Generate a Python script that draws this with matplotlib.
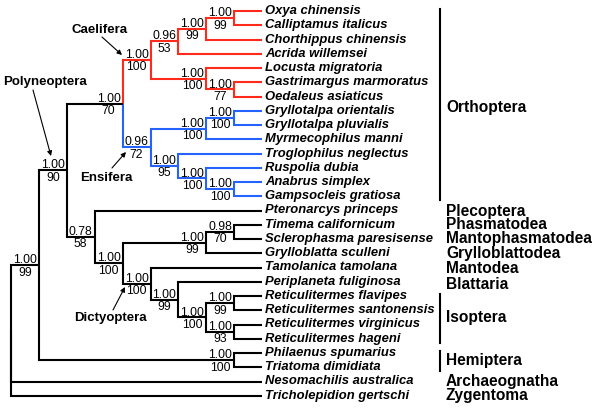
import matplotlib.pyplot as plt

RED = '#ff2a1a'
BLUE = '#2563ff'

# tree nodes: (depth, posterior, bootstrap, colour, children); leaves are taxon names
caelifera = (5, '1.00', '100', RED, [
    (6, '0.96', '53', None, [
        (7, '1.00', '99', None, [
            (8, '1.00', '99', None, ['Oxya chinensis', 'Calliptamus italicus']),
            'Chorthippus chinensis']),
        'Acrida willemsei']),
    (7, '1.00', '100', None, [
        'Locusta migratoria',
        (8, '1.00', '77', None, ['Gastrimargus marmoratus', 'Oedaleus asiaticus'])])])

ensifera = (5, '0.96', '72', BLUE, [
    (7, '1.00', '100', None, [
        (8, '1.00', '100', None, ['Gryllotalpa orientalis', 'Gryllotalpa pluvialis']),
        'Myrmecophilus manni']),
    (6, '1.00', '95', None, [
        'Troglophilus neglectus',
        (7, '1.00', '100', None, [
            'Ruspolia dubia',
            (8, '1.00', '100', None, ['Anabrus simplex', 'Gampsocleis gratiosa'])])])])

others = (3, '0.78', '58', None, [
    'Pteronarcys princeps',
    (4, '1.00', '100', None, [
        (7, '1.00', '99', None, [
            (8, '0.98', '70', None, ['Timema californicum', 'Sclerophasma paresisense']),
            'Grylloblatta sculleni']),
        (5, '1.00', '100', None, [
            'Tamolanica tamolana',
            (6, '1.00', '99', None, [
                'Periplaneta fuliginosa',
                (7, '1.00', '100', None, [
                    (8, '1.00', '99', None, ['Reticulitermes flavipes', 'Reticulitermes santonensis']),
                    (8, '1.00', '93', None, ['Reticulitermes virginicus', 'Reticulitermes hageni'])])])])])])

tree = (0, None, None, 'black', [
    (1, '1.00', '99', None, [
        (2, '1.00', '90', None, [
            (4, '1.00', '70', None, [caelifera, ensifera]),
            others]),
        (8, '1.00', '100', None, ['Philaenus spumarius', 'Triatoma dimidiata'])]),
    'Nesomachilis australica',
    'Tricholepidion gertschi'])

# order names and the leaf row they sit beside
orders = ['Orthoptera', 'Plecoptera', 'Phasmatodea', 'Mantophasmatodea', 'Grylloblattodea',
          'Mantodea', 'Blattaria', 'Isoptera', 'Hemiptera', 'Archaeognatha', 'Zygentoma']
order_rows = [6.8, 14.1, 15.0, 16.0, 17.0, 18.05, 19.2, 21.5, 24.5, 26.0, 27.0]
# vertical bars (first leaf row, last leaf row)
bars = [(0, 13), (20, 23), (24, 25)]

# clade annotations: label, text position, arrow tail, arrow head
clades = [('Polyneoptera', (45, 82), (33, 90), (51, 156)),
          ('Caelifera', (100, 30), (102, 37), (122, 55)),
          ('Ensifera', (106, 178), (112, 168), (126, 152)),
          ('Dictyoptera', (110, 318), (113, 310), (125, 287))]

X0, DX = 11, 27.9
Y0, DY = 11, 14.25
FONT = ['Liberation Sans', 'DejaVu Sans']

fig = plt.figure(figsize=(6, 4.09), dpi=100)
ax = fig.add_axes([0, 0, 1, 1])
ax.set_xlim(0, 600)
ax.set_ylim(409, 0)
ax.axis('off')

leaf_i = [0]


def draw(node, colour):
    if isinstance(node, str):
        y = Y0 + leaf_i[0] * DY
        leaf_i[0] += 1
        x = X0 + 9 * DX
        ax.text(x + 3, y, node, ha='left', va='center', fontsize=9.4,
                fontweight='bold', fontstyle='italic', family=FONT)
        return x, y, colour
    depth, pp, bs, col, kids = node
    col = col or colour
    x = X0 + depth * DX
    pos = [draw(k, col) for k in kids]
    y = (pos[0][1] + pos[-1][1]) / 2
    for cx, cy, cc in pos:
        ax.plot([x, x, cx], [y, cy, cy], color=cc, lw=1.5,
                solid_joinstyle='miter', solid_capstyle='butt')
    if pp:
        ax.text(x - 2, y - 1.8, pp, ha='right', va='baseline', fontsize=8.7, family=FONT)
        ax.text(x - 14, y + 1.5, bs, ha='center', va='top', fontsize=8.7, family=FONT)
    return x, y, col


draw(tree, 'black')

for name, row in zip(orders, order_rows):
    ax.text(446, Y0 + row * DY, name, ha='left', va='center', fontsize=11.2,
            fontweight='bold', family=FONT)

for a, b in bars:
    ax.plot([440, 440], [Y0 + a * DY - 2, Y0 + b * DY + 4], color='black', lw=1.5)

for name, tpos, tail, head in clades:
    ax.text(tpos[0], tpos[1], name, ha='center', va='center', fontsize=9.5,
            fontweight='bold', family=FONT)
    ax.annotate('', xy=head, xytext=tail,
                arrowprops=dict(arrowstyle='-|>', color='black', lw=0.8,
                                mutation_scale=7, shrinkA=0, shrinkB=0))

fig.savefig('out.png', dpi=100)
